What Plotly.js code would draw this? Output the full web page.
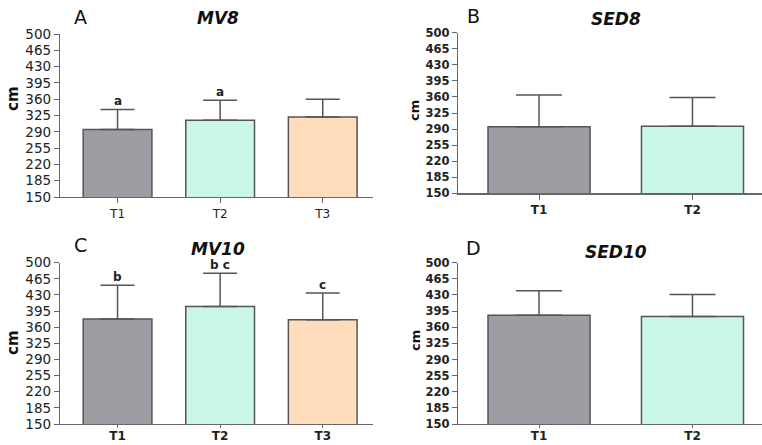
<!DOCTYPE html>
<html>
<head>
<meta charset="utf-8">
<script src="https://cdn.plot.ly/plotly-3.0.1.min.js"></script>
<style>html,body{margin:0;padding:0;background:#fff;}#chart{width:762px;height:445px;}</style>
</head>
<body>
<div id="chart"></div>
<script>
// ---- data ----
const cats3 = ['T1', 'T2', 'T3'];
const cats2 = ['T1', 'T2'];
const mv8Mean = [295, 315, 322];
const mv8Err = [43, 43, 38];
const mv8Sig = ['a', 'a', ''];
const sed8Mean = [295, 296];
const sed8Err = [69, 63];
const mv10Mean = [378, 405, 376];
const mv10Err = [73, 72, 58];
const mv10Sig = ['b', 'b c', 'c'];
const sed10Mean = [386, 383];
const sed10Err = [53, 48];
const yTicks = [150, 185, 220, 255, 290, 325, 360, 395, 430, 465, 500];
const panelTitles = ['MV8', 'SED8', 'MV10', 'SED10'];
const panelLetters = ['A', 'B', 'C', 'D'];

const colors = ['#9e9da3', '#c9f6e7', '#fedcbc'];
const edge = '#555555';
const font = 'DejaVu Sans, Liberation Sans, Arial, sans-serif';

function barTrace(cats, means, errs, xa, ya, capW, bw) {
  return {
    type: 'bar', x: cats, y: means, xaxis: xa, yaxis: ya,
    width: bw,
    marker: {color: colors.slice(0, cats.length), line: {color: edge, width: 1.5}},
    error_y: {type: 'data', symmetric: false, array: errs, arrayminus: errs.map(() => 0),
      color: edge, thickness: 1.5, width: capW},
    hoverinfo: 'none', showlegend: false
  };
}

const data = [
  barTrace(cats3, mv8Mean, mv8Err, 'x', 'y', 17, 0.67),
  barTrace(cats2, sed8Mean, sed8Err, 'x2', 'y2', 23, 0.665),
  barTrace(cats3, mv10Mean, mv10Err, 'x3', 'y3', 17, 0.67),
  barTrace(cats2, sed10Mean, sed10Err, 'x4', 'y4', 23, 0.665)
];

function xax(domain, range, bold, anchor, bottom) {
  return {domain: domain, range: range, anchor: anchor, type: 'category', showline: true, linecolor: '#666', linewidth: 1.2,
    ticks: 'outside', ticklen: bottom ? 3 : 5, tickcolor: '#666', showgrid: false, zeroline: false, fixedrange: true,
    ticklabelstandoff: bottom ? -3 : 0,
    tickfont: {family: font, size: 12, color: '#222', weight: bold ? 'bold' : 'normal'}};
}
function yax(domain, bold, anchor) {
  return {domain: domain, range: [150, 500], anchor: anchor, tickvals: yTicks, ticktext: yTicks.map(String),
    showline: true, linecolor: '#666', linewidth: 1.2, ticks: 'outside', ticklen: 5, tickcolor: '#666',
    showgrid: false, zeroline: false, fixedrange: true,
    tickfont: {family: font, size: bold ? 11.5 : 13.5, color: '#222', weight: bold ? 'bold' : 'normal'}};
}

const W = 762, H = 445;
const xdA = [60 / W, 373 / W], xdB = [458 / W, 1];
const ydA = [(H - 197) / H, (H - 34) / H];
const ydB = [(H - 193.3) / H, (H - 32.7) / H];
const ydC = [(H - 424) / H, (H - 262.7) / H];

const annotations = [];
const titlePos = [[218, 18], [616, 19], [218, 249], [616, 252]];
const letterPos = [[80, 17], [473, 16], [80, 245], [473, 248]];
const cmPos = [[13, 99], [415, 110], [13, 343], [415, 340]];
for (let i = 0; i < 4; i++) {
  annotations.push({xref: 'paper', yref: 'paper', x: titlePos[i][0] / W, y: 1 - titlePos[i][1] / H,
    text: '<b><i>' + panelTitles[i] + '</i></b>', showarrow: false, xanchor: 'center', yanchor: 'middle',
    font: {family: font, size: 17, color: '#111'}});
  annotations.push({xref: 'paper', yref: 'paper', x: letterPos[i][0] / W, y: 1 - letterPos[i][1] / H,
    text: panelLetters[i], showarrow: false, xanchor: 'center', yanchor: 'middle',
    font: {family: font, size: 19, color: '#111'}});
  annotations.push({xref: 'paper', yref: 'paper', x: cmPos[i][0] / W, y: 1 - cmPos[i][1] / H,
    text: '<b>cm</b>', showarrow: false, xanchor: 'center', yanchor: 'middle', textangle: -90,
    font: {family: font, size: i % 2 === 0 ? 15 : 13, color: '#111'}});
}
function sig(cats, means, errs, letters, xa, ya) {
  cats.forEach((c, k) => {
    if (!letters[k]) return;
    annotations.push({xref: xa, yref: ya, x: c, y: means[k] + errs[k], text: '<b>' + letters[k] + '</b>',
      showarrow: false, yanchor: 'bottom', yshift: -1, font: {family: font, size: 12, color: '#222'}});
  });
}
sig(cats3, mv8Mean, mv8Err, mv8Sig, 'x', 'y');
sig(cats3, mv10Mean, mv10Err, mv10Sig, 'x3', 'y3');

const layout = {
  width: W, height: H, margin: {l: 0, r: 0, t: 0, b: 0},
  paper_bgcolor: '#fff', plot_bgcolor: '#fff',
  xaxis: xax(xdA, [-0.561, 2.49], false, 'y', false), yaxis: yax(ydA, false, 'x'),
  xaxis2: xax(xdB, [-0.528, 1.453], true, 'y2', false), yaxis2: yax(ydB, true, 'x2'),
  xaxis3: xax(xdA, [-0.561, 2.49], true, 'y3', true), yaxis3: yax(ydC, false, 'x3'),
  xaxis4: xax(xdB, [-0.528, 1.453], true, 'y4', true), yaxis4: yax(ydC, true, 'x4'),
  annotations: annotations
};

Plotly.newPlot('chart', data, layout, {displayModeBar: false, staticPlot: true});
</script>
</body>
</html>
